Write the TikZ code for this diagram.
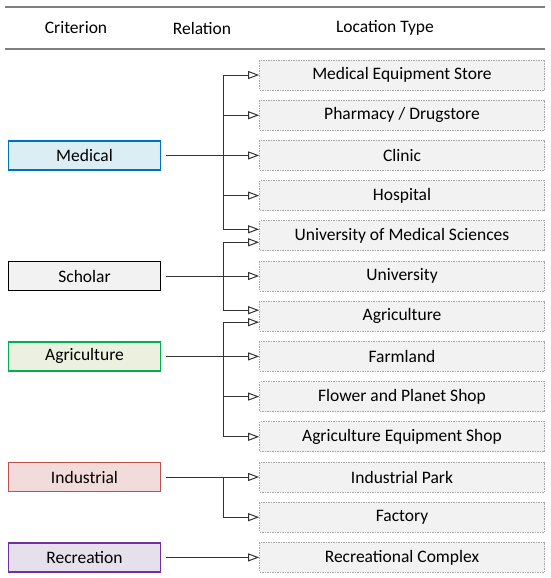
\documentclass[tikz,border=0pt]{standalone}
\usepackage{fontspec}
\setmainfont{Carlito}
\usetikzlibrary{arrows.meta}
\definecolor{wire}{HTML}{333333}
\definecolor{rulegray}{HTML}{7F7F7F}
\definecolor{locfill}{HTML}{F2F2F2}
\definecolor{locline}{HTML}{A6A6A6}
\definecolor{medline}{HTML}{0070C0}
\definecolor{medfill}{HTML}{DAEEF3}
\definecolor{schline}{HTML}{000000}
\definecolor{schfill}{HTML}{F2F2F2}
\definecolor{agrline}{HTML}{00B050}
\definecolor{agrfill}{HTML}{EBF1DE}
\definecolor{indline}{HTML}{C0504D}
\definecolor{indfill}{HTML}{F2DCDB}
\definecolor{recline}{HTML}{7030A0}
\definecolor{recfill}{HTML}{E6E0EC}
\tikzset{
  rule/.style={draw=rulegray, line width=1.5pt},
  crit/.style={line width=1.8pt, minimum width=152pt, minimum height=29pt, inner sep=0pt},
  loc/.style={draw=locline, fill=locfill, line width=0.8pt, dash pattern=on 1.5pt off 1pt,
    minimum width=285pt, minimum height=30pt, inner sep=0pt},
  wire/.style={draw=wire, line width=1pt},
  link/.style={wire, -{Triangle[open, length=11pt, width=8pt]}},
}

\begin{document}
\begin{tikzpicture}[x=1pt, y=-1pt, font=\fontsize{17.5}{20}\selectfont]
  \useasboundingbox (0,0) rectangle (550,578);
  % header
  \draw[rule] (5,7) -- (545,7);
  \draw[rule] (5,49) -- (545,49);
  \node (hcrit) at (76,28) {Criterion};
  \node (hrel) at (202,28) {Relation};
  \node (hloc) at (385,28) {Location Type};
  % location types
  \foreach \name [count=\i from 0] in {
      Medical Equipment Store, Pharmacy / Drugstore, Clinic, Hospital,
      University of Medical Sciences, University, Agriculture, Farmland,
      Flower and Planet Shop, Agriculture Equipment Shop, Industrial Park,
      Factory, Recreational Complex} {
    \pgfmathsetmacro{\yy}{75+40.2*\i}
    \node[loc] (loc\i) at (402,\yy) {\name};
  }
  % criteria
  \foreach \key/\name/\tgt in {
      med/Medical/2, sch/Scholar/5, agr/Agriculture/7, ind/Industrial/10, rec/Recreation/12} {
    \node[crit, draw=\key line, fill=\key fill] (\key) at (84.5,0 |- loc\tgt) {\name};
    \draw[link, shorten <=5pt] (\key) -- (loc\tgt);
  }
  \coordinate (trunk) at (223,0);
  % medical
  \coordinate (m4) at ([yshift=6.5pt]loc4.west);
  \draw[wire] (loc0.west -| trunk) -- (m4 -| trunk);
  \foreach \t in {0,1,3}
    \draw[link] (loc\t.west -| trunk) -- (loc\t);
  \draw[link] (m4 -| trunk) -- (m4);
  % scholar
  \coordinate (s4) at ([yshift=-6.5pt]loc4.west);
  \coordinate (s6) at ([yshift=6pt]loc6.west);
  \draw[wire] (s4 -| trunk) -- (s6 -| trunk);
  \draw[link] (s4 -| trunk) -- (s4);
  \draw[link] (s6 -| trunk) -- (s6);
  % agriculture
  \coordinate (a6) at ([yshift=-6pt]loc6.west);
  \draw[wire] (a6 -| trunk) -- (loc9.west -| trunk);
  \draw[link] (a6 -| trunk) -- (a6);
  \foreach \t in {8,9}
    \draw[link] (loc\t.west -| trunk) -- (loc\t);
  % industrial
  \draw[wire] (loc10.west -| trunk) -- (loc11.west -| trunk);
  \draw[link] (loc11.west -| trunk) -- (loc11);
\end{tikzpicture}
\end{document}
